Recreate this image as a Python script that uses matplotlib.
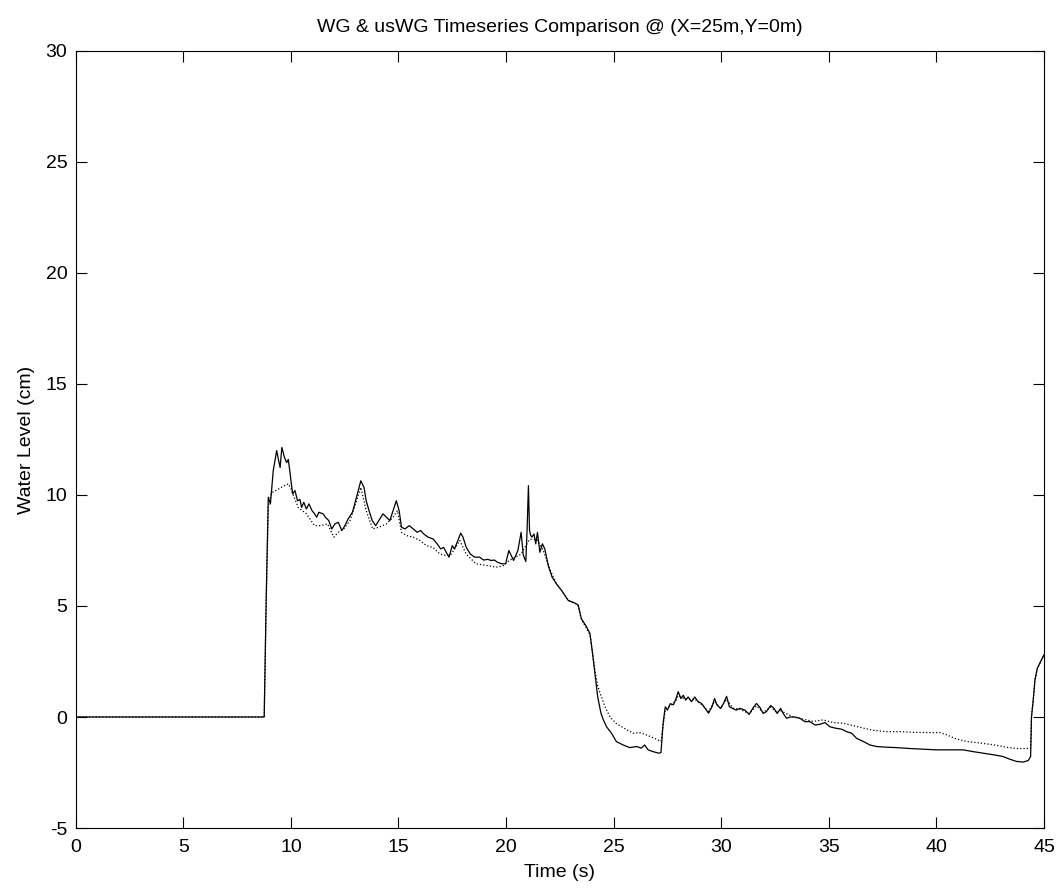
import matplotlib
matplotlib.use("Agg")
import matplotlib.pyplot as plt

plt.rcParams["font.family"] = ["Liberation Sans", "DejaVu Sans"]
plt.rcParams["axes.unicode_minus"] = False

t_wg = [0.0, 8.76, 8.85, 8.95, 9.05, 9.18, 9.34, 9.42, 9.50, 9.58, 9.70, 9.80,
        9.88, 9.96, 10.08, 10.19, 10.31, 10.42, 10.50, 10.60, 10.72, 10.84,
        10.98, 11.10, 11.20, 11.30, 11.50, 11.60, 11.76, 11.90, 12.05, 12.20,
        12.37, 12.50, 12.66, 12.86, 13.05, 13.25, 13.40, 13.50, 13.63, 13.78,
        13.94, 14.09, 14.28, 14.44, 14.60, 14.75, 14.90, 15.03, 15.14, 15.30,
        15.50, 15.69, 15.87, 16.03, 16.18, 16.38, 16.61, 16.80, 16.96, 17.10,
        17.22, 17.35, 17.50, 17.60, 17.76, 17.89, 18.00, 18.15, 18.34, 18.54,
        18.77, 18.95, 19.15, 19.31, 19.46, 19.60, 19.80, 19.98, 20.13, 20.35,
        20.55, 20.70, 20.80, 20.92, 20.98, 21.04, 21.09, 21.14, 21.20, 21.30,
        21.38, 21.46, 21.57, 21.69, 21.80, 21.96, 22.14, 22.34, 22.58, 22.89,
        23.20, 23.35, 23.50, 23.74, 23.90, 24.02, 24.13, 24.26, 24.41, 24.51,
        24.67, 24.90, 25.13, 25.44, 25.75, 26.06, 26.29, 26.44, 26.60, 26.83,
        27.10, 27.20, 27.30, 27.40, 27.50, 27.63, 27.78, 27.90, 28.00, 28.13,
        28.24, 28.35, 28.46, 28.62, 28.77, 28.93, 29.10, 29.26, 29.41, 29.57,
        29.69, 29.80, 29.97, 30.10, 30.25, 30.38, 30.54, 30.70, 30.87, 31.10,
        31.30, 31.49, 31.64, 31.80, 31.95, 32.10, 32.30, 32.45, 32.60, 32.76,
        32.88, 33.04, 33.20, 33.43, 33.66, 33.89, 34.12, 34.36, 34.59, 34.82,
        35.05, 35.29, 35.60, 35.83, 36.06, 36.29, 36.60, 36.91, 37.22, 37.68,
        38.15, 38.77, 39.39, 40.00, 40.63, 41.25, 41.71, 42.18, 42.64, 43.10,
        43.41, 43.72, 44.03, 44.27, 44.38, 44.42, 44.50, 44.58, 44.69, 44.84,
        45.0]
v_wg = [0.0, 0.0, 5.2, 9.9, 9.6, 11.1, 12.0, 11.6, 11.24, 12.14, 11.7, 11.46,
        11.6, 11.0, 10.05, 10.2, 9.74, 9.8, 9.44, 9.67, 9.37, 9.6,
        9.3, 9.15, 9.0, 9.22, 9.15, 9.0, 8.85, 8.47, 8.7, 8.77,
        8.4, 8.6, 8.92, 9.22, 9.9, 10.64, 10.34, 9.74, 9.3, 8.85,
        8.62, 8.85, 9.15, 9.0, 8.85, 9.3, 9.74, 9.3, 8.55, 8.47,
        8.62, 8.47, 8.32, 8.4, 8.24, 8.1, 8.02, 7.8, 7.57, 7.64,
        7.42, 7.2, 7.72, 7.57, 7.95, 8.28, 8.1, 7.64, 7.34, 7.2,
        7.2, 7.07, 7.1, 7.05, 7.07, 6.97, 6.9, 6.9, 7.5, 7.05,
        7.5, 8.32, 7.3, 7.0, 8.5, 10.42, 8.4, 8.2, 8.1, 8.24,
        7.8, 8.32, 7.42, 7.8, 7.57, 6.83, 6.3, 6.0, 5.7, 5.25,
        5.13, 5.05, 4.43, 4.06, 3.76, 2.86, 1.96, 0.91, 0.17, -0.1,
        -0.44, -0.73, -1.11, -1.26, -1.38, -1.33, -1.4, -1.26, -1.48, -1.56,
        -1.63, -1.6, -0.28, 0.46, 0.31, 0.6, 0.55, 0.83, 1.14, 0.83,
        0.98, 0.76, 0.9, 0.69, 0.9, 0.69, 0.6, 0.38, 0.17, 0.46,
        0.83, 0.55, 0.38, 0.6, 0.93, 0.46, 0.38, 0.31, 0.39, 0.31,
        0.12, 0.43, 0.61, 0.43, 0.16, 0.24, 0.52, 0.39, 0.16, 0.39,
        0.16, -0.06, 0.0, 0.0, -0.06, -0.21, -0.21, -0.36, -0.33, -0.25,
        -0.44, -0.5, -0.55, -0.66, -0.73, -0.96, -1.1, -1.26, -1.33, -1.36,
        -1.38, -1.42, -1.45, -1.48, -1.48, -1.48, -1.56, -1.63, -1.7, -1.78,
        -1.9, -2.0, -2.03, -1.96, -1.78, 0.0, 0.76, 1.66, 2.19, 2.48,
        2.8]

t_us = [0.0, 8.76, 8.85, 8.95, 9.10, 9.30, 9.55, 9.70, 9.88, 10.00, 10.15,
        10.34, 10.72, 11.10, 11.40, 11.70, 12.00, 12.20, 12.45, 12.75, 13.05,
        13.25, 13.50, 13.80, 14.10, 14.44, 14.75, 14.95, 15.14, 15.38, 15.69,
        16.00, 16.30, 16.60, 16.93, 17.22, 17.46, 17.85, 18.15, 18.60, 19.08,
        19.54, 19.85, 20.15, 20.45, 20.70, 20.97, 21.10, 21.43, 21.73, 22.06,
        22.34, 22.58, 22.89, 23.20, 23.35, 23.50, 23.74, 23.90, 24.02, 24.13,
        24.26, 24.36, 24.60, 24.83, 25.13, 25.50, 25.90, 26.20, 26.50, 26.90,
        27.20, 27.30, 27.40, 27.63, 27.90, 28.00, 28.24, 28.46, 28.77, 29.10,
        29.41, 29.69, 29.97, 30.25, 30.54, 30.87, 31.30, 31.64, 31.95, 32.30,
        32.60, 32.73, 33.35, 33.81, 34.28, 34.74, 35.20, 35.67, 36.14, 36.60,
        37.07, 37.68, 38.30, 38.92, 39.54, 40.16, 40.47, 40.93, 41.40, 42.02,
        42.64, 43.26, 43.72, 44.19, 44.38, 44.42, 44.50, 44.58, 44.69, 44.84,
        45.0]
v_us = [0.0, 0.0, 5.0, 9.5, 10.1, 10.2, 10.34, 10.42, 10.5, 10.3, 9.9,
        9.44, 9.15, 8.62, 8.62, 8.7, 8.1, 8.32, 8.47, 8.85, 9.74,
        10.34, 9.3, 8.47, 8.55, 8.7, 9.0, 9.3, 8.32, 8.17, 8.1,
        7.95, 7.72, 7.64, 7.34, 7.27, 7.34, 7.95, 7.34, 6.9, 6.83,
        6.75, 6.8, 7.05, 7.2, 7.34, 7.8, 8.0, 8.0, 7.5, 6.6,
        6.0, 5.7, 5.25, 5.13, 5.0, 4.4, 4.0, 3.7, 2.9, 2.1,
        1.4, 1.1, 0.46, 0.0, -0.3, -0.51, -0.73, -0.7, -0.8, -0.96,
        -1.1, -0.4, 0.35, 0.5, 0.75, 0.95, 0.85, 0.8, 0.8, 0.55,
        0.25, 0.7, 0.4, 0.8, 0.4, 0.35, 0.15, 0.5, 0.2, 0.45,
        0.2, 0.3, 0.0, -0.1, -0.2, -0.13, -0.25, -0.28, -0.39, -0.5,
        -0.6, -0.66, -0.66, -0.69, -0.7, -0.7, -0.8, -0.99, -1.1, -1.17,
        -1.25, -1.36, -1.42, -1.42, -1.4, 0.0, 0.76, 1.66, 2.19, 2.48,
        2.8]

fig = plt.figure(figsize=(10.59, 8.91), dpi=100)
ax = fig.add_axes([0.0715, 0.0707, 0.9143, 0.8721])

ax.plot(t_us, v_us, color="black", linestyle=":", linewidth=0.9)
ax.plot(t_wg, v_wg, color="black", linestyle="-", linewidth=0.9)

ax.set_xlim(0, 45)
ax.set_ylim(-5, 30)
ax.set_xticks(range(0, 46, 5))
ax.set_yticks(range(-5, 31, 5))
ax.tick_params(direction="in", length=8, width=0.8, labelsize=14,
               top=True, right=True)
ax.tick_params(axis="x", pad=8)
ax.tick_params(axis="y", pad=6)
for s in ax.spines.values():
    s.set_linewidth(0.8)

ax.set_title("WG & usWG Timeseries Comparison @ (X=25m,Y=0m)", fontsize=14, pad=14)
ax.set_xlabel("Time (s)", fontsize=14, labelpad=6)
ax.set_ylabel("Water Level (cm)", fontsize=14, labelpad=8)

fig.savefig("out.png", dpi=100)
